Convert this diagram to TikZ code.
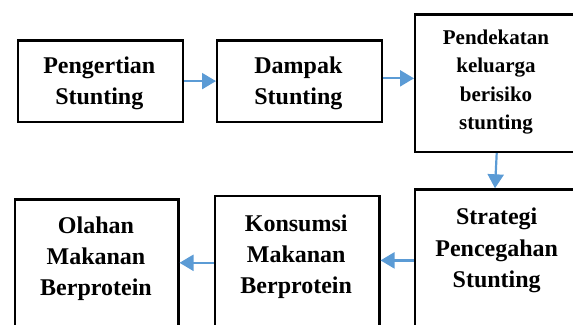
\documentclass[tikz,border=0pt]{standalone}
\usepackage{fontspec}
\setmainfont{Liberation Serif}
\usetikzlibrary{arrows.meta}
\definecolor{arrowblue}{RGB}{91,155,213}
\tikzset{
  boxnode/.style={draw=black, line width=2.2pt, rectangle, inner sep=0pt, anchor=north west},
  txt/.style={align=center, inner sep=0pt, font=\bfseries\fontsize{24}{31.2}\selectfont},
  txtsmall/.style={align=center, inner sep=0pt, font=\bfseries\fontsize{21}{28.3}\selectfont},
  arr/.style={draw=arrowblue, line width=2.2pt, -{Triangle[length=14pt,width=16pt]}}
}
\begin{document}
\begin{tikzpicture}[x=1pt,y=-1pt]
\useasboundingbox (0,0) rectangle (573,324);
\clip (0,0) rectangle (573,324);
\node[boxnode, minimum width=164.9pt, minimum height=81.4pt] (box1) at (16.8,39.3) {};
\node[boxnode, minimum width=164.7pt, minimum height=81.4pt] (box2) at (216,39.3) {};
\node[boxnode, minimum width=170pt, minimum height=137.7pt] (box3) at (414,13.3) {};
\node[boxnode, minimum width=170pt, minimum height=142pt] (box4) at (414,188.3) {};
\node[boxnode, minimum width=164.3pt, minimum height=133.4pt] (box5) at (214,195) {};
\node[boxnode, minimum width=163.3pt, minimum height=150pt] (box6) at (14,198.3) {};
\node[txt] (t1) at (99.3,83.5) {Pengertian\\Stunting};
\node[txt] (t2) at (298.4,83) {Dampak\\Stunting};
\node[txtsmall] (t3) at (496,82) {Pendekatan\\keluarga\\berisiko\\stunting};
\node[txt] (t4) at (496.7,250.5) {Strategi\\Pencegahan\\Stunting};
\node[txt] (t5) at (296.2,256.5) {Konsumsi\\Makanan\\Berprotein};
\node[txt] (t6) at (96,258.5) {Olahan\\Makanan\\Berprotein};
\coordinate (a2) at ([yshift=4.9pt]box3.west);
\draw[arr] (box1.east) -- (box2.west);
\draw[arr] (a2 -| box2.east) -- (a2);
\draw[arr] ([xshift=82.7pt]box3.south west) -- ([xshift=81pt]box4.north west);
\draw[arr] (box4.west) -- (box4.west -| box5.east);
\draw[arr] (box5.west) -- (box5.west -| box6.east);
\end{tikzpicture}
\end{document}
